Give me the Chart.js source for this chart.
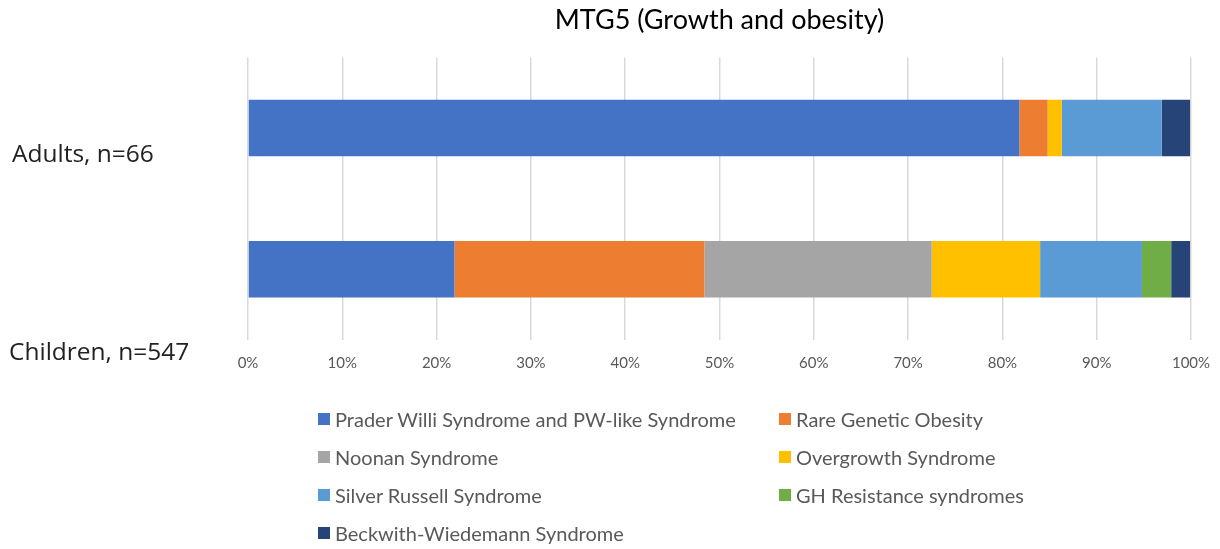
<!DOCTYPE html>
<html>
<head>
<meta charset="utf-8">
<script src="https://cdn.jsdelivr.net/npm/chart.js@4/dist/chart.umd.min.js"></script>
<style>
  html, body { margin: 0; padding: 0; background: #fff; }
  #wrap { position: relative; width: 1220px; height: 549px; }
  #chart { position: absolute; left: 0; top: 0; }
  #legend {
    position: absolute; left: 318px; top: 405px;
    display: grid; grid-template-columns: 461px 300px; grid-auto-rows: 38px;
    font-family: Lato, sans-serif; font-size: 20px; color: #595959;
  }
  #legend .item { display: flex; align-items: center; height: 28px; white-space: nowrap; }
  #legend .box { width: 12px; height: 12px; margin-right: 5px; flex: none; }
</style>
</head>
<body>
<div id="wrap">
  <canvas id="chart" width="1220" height="549"></canvas>
  <div id="legend"></div>
</div>
<script>
// groups (rows) and the share of each syndrome, in percent
const groups = ["Adults, n=66", "Children, n=547"];
const seriesNames = [
  "Prader Willi Syndrome and PW-like Syndrome",
  "Rare Genetic Obesity",
  "Noonan Syndrome",
  "Overgrowth Syndrome",
  "Silver Russell Syndrome",
  "GH Resistance syndromes",
  "Beckwith-Wiedemann Syndrome"
];
const adults = [81.8, 3.0, 0, 1.5, 10.6, 0, 3.0];
const children = [21.9, 26.5, 24.1, 11.5, 10.8, 3.1, 2.0];
const colors = ["#4472c4", "#ed7d31", "#a5a5a5", "#ffc000", "#5b9bd5", "#70ad47", "#264478"];
const xTicks = [0, 10, 20, 30, 40, 50, 60, 70, 80, 90, 100];

const datasets = seriesNames.map((name, i) => ({
  label: name,
  data: [adults[i], children[i]],
  backgroundColor: colors[i],
  borderWidth: 0,
  barPercentage: 1,
  categoryPercentage: 0.4
}));

// category labels sit a bit below their bars in the original
const groupLabels = {
  id: "groupLabels",
  afterDraw(chart) {
    const { ctx } = chart;
    const y = chart.scales.y;
    const offsets = [27, 84];
    const xs = [12, 9];
    ctx.save();
    ctx.font = '24.5px "Open Sans", sans-serif';
    ctx.fillStyle = "#222";
    ctx.textBaseline = "middle";
    ctx.textAlign = "left";
    groups.forEach((g, i) => {
      ctx.fillText(g, xs[i], y.getPixelForValue(i) + offsets[i]);
    });
    ctx.restore();
  }
};

const chart = new Chart(document.getElementById("chart"), {
  type: "bar",
  data: { labels: groups, datasets: datasets },
  options: {
    indexAxis: "y",
    responsive: false,
    animation: false,
    layout: { padding: { left: 248, right: 29, top: 0, bottom: 163 } },
    plugins: {
      legend: { display: false },
      tooltip: { enabled: false },
      title: {
        display: true,
        text: "MTG5 (Growth and obesity)",
        color: "#000",
        font: { family: "Lato", size: 27, weight: "normal" },
        padding: { top: 4, bottom: 21 }
      }
    },
    scales: {
      x: {
        stacked: true,
        min: 0,
        max: 100,
        afterBuildTicks: (s) => { s.ticks = xTicks.map(v => ({ value: v })); },
        afterFit: (s) => { s.paddingRight = 0; s.paddingLeft = 0; },
        ticks: {
          callback: (v) => v + "%",
          color: "#595959",
          font: { family: "Lato", size: 15 },
          padding: 14,
          maxRotation: 0
        },
        grid: { color: "#d9d9d9", lineWidth: 1.5, drawTicks: false },
        border: { display: false }
      },
      y: {
        stacked: true,
        display: false
      }
    }
  },
  plugins: [groupLabels]
});

// two-column legend like the original
const legendEl = document.getElementById("legend");
seriesNames.forEach((name, i) => {
  const item = document.createElement("div");
  item.className = "item";
  const box = document.createElement("span");
  box.className = "box";
  box.style.background = colors[i];
  const txt = document.createElement("span");
  txt.textContent = name;
  item.appendChild(box);
  item.appendChild(txt);
  legendEl.appendChild(item);
});
</script>
</body>
</html>
